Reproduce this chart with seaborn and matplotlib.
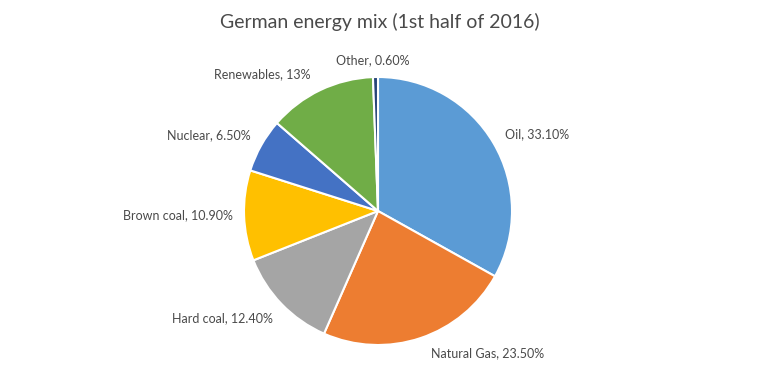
import matplotlib
matplotlib.use("Agg")
import matplotlib.pyplot as plt
import seaborn as sns

# data
sources = ["Oil", "Natural Gas", "Hard coal", "Brown coal", "Nuclear", "Renewables", "Other"]
shares = [33.10, 23.50, 12.40, 10.90, 6.50, 13, 0.60]
share_labels = ["33.10%", "23.50%", "12.40%", "10.90%", "6.50%", "13%", "0.60%"]
colors = ["#5B9BD5", "#ED7D31", "#A5A5A5", "#FFC000", "#4472C4", "#70AD47", "#264478"]

# label centres in pixels (x, y from top), like Excel's best fit
label_pos = [(537, 134), (488, 353), (222, 318), (178, 215), (209, 135), (262, 74), (373, 60)]

sns.set_theme(style="white")
plt.rcParams["font.family"] = ["Lato", "DejaVu Sans"]
text_col = "#4a4a4a"

W, H = 760, 380
fig = plt.figure(figsize=(7.6, 3.8), dpi=100)
ax = fig.add_axes([0, 0, 1, 1])

labels = [f"{s}, {p}" for s, p in zip(sources, share_labels)]
wedges, texts = ax.pie(
    shares,
    labels=labels,
    colors=sns.color_palette(colors),
    startangle=90,
    counterclock=False,
    center=(378, H - 211),
    radius=134,
    wedgeprops={"edgecolor": "white", "linewidth": 1.5},
    textprops={"fontsize": 9, "color": text_col},
)
for t, (x, y) in zip(texts, label_pos):
    t.set_position((x, H - y))
    t.set_ha("center")
    t.set_va("center")

ax.set_xlim(0, W)
ax.set_ylim(0, H)
ax.set_aspect("equal")
ax.axis("off")

fig.text(0.5, 1 - 22 / H, "German energy mix (1st half of 2016)",
         ha="center", va="center", fontsize=14, color=text_col)

fig.savefig("out.png", dpi=100, facecolor="white")
